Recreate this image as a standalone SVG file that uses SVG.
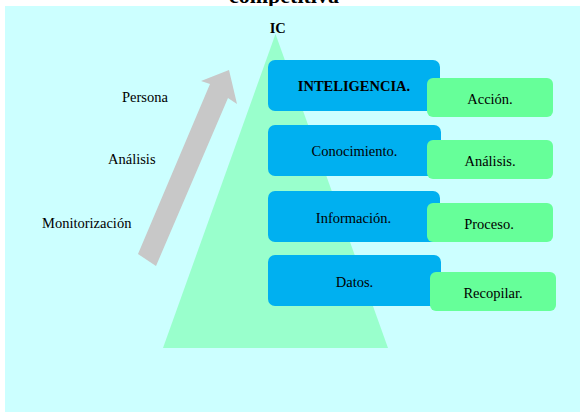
<svg xmlns="http://www.w3.org/2000/svg" width="580" height="412" viewBox="0 0 580 412">
<style>
text{font-family:"Liberation Serif","Times New Roman",serif;font-size:14.5px;fill:#000}
.b{font-weight:bold}
.m{text-anchor:middle}
.blue{fill:#00B0F0}
.green{fill:#66FF99}
</style>
<rect x="0" y="0" width="580" height="412" fill="#FFFFFF"/>
<text class="b m" x="284" y="3" style="font-size:22px">competitiva</text>
<rect x="5" y="6" width="575" height="406" fill="#CCFFFF"/>
<g id="pyramid"><polygon points="275.5,34 163,348 388,348" fill="#99FFCC"/></g>
<g id="ic"><text class="b m" x="277.7" y="33">IC</text></g>
<g id="connectors"><polygon points="138,254 210,84 201,81 229,70 237,104 228,98 156,266" fill="#C8C8C8"/></g>
<g id="labels">
<text x="122" y="102">Persona</text>
<text x="108" y="164">Análisis</text>
<text x="42" y="228">Monitorización</text>
</g>
<g id="inteligencia"><rect class="blue" x="268" y="60" width="172" height="51" rx="7"/><text class="b m" x="354" y="91">INTELIGENCIA.</text></g>
<g id="accion"><rect class="green" x="427" y="78" width="126" height="39" rx="6"/><text class="m" x="490" y="104">Acción.</text></g>
<g id="conocimiento"><rect class="blue" x="268" y="125" width="173" height="51" rx="7"/><text class="m" x="354.5" y="156">Conocimiento.</text></g>
<g id="analisis"><rect class="green" x="427" y="140" width="126" height="39" rx="6"/><text class="m" x="490" y="166">Análisis.</text></g>
<g id="informacion"><rect class="blue" x="268" y="191" width="172" height="51" rx="7"/><text class="m" x="353.5" y="222.5">Información.</text></g>
<g id="proceso"><rect class="green" x="427" y="203" width="126" height="39" rx="6"/><text class="m" x="489" y="229">Proceso.</text></g>
<g id="datos"><rect class="blue" x="268" y="255" width="173" height="51" rx="7"/><text class="m" x="354.5" y="286.5">Datos.</text></g>
<g id="recopilar"><rect class="green" x="430" y="272" width="126" height="39" rx="6"/><text class="m" x="493" y="298">Recopilar.</text></g>
</svg>
